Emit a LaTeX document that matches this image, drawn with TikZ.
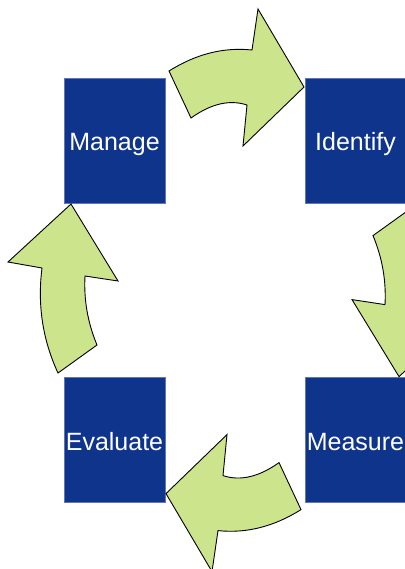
\documentclass[tikz,border=0pt]{standalone}
\usepackage{fontspec}
\setmainfont{Liberation Sans}
\definecolor{boxblue}{RGB}{14,52,140}
\definecolor{boxedge}{RGB}{96,118,184}
\definecolor{arrowgreen}{RGB}{204,228,140}
\begin{document}
\begin{tikzpicture}[x=1pt,y=-1pt,
  stage/.style={fill=boxblue, draw=boxedge, line width=0.5pt, minimum width=101pt, minimum height=125pt, inner sep=0pt, text height=20pt, text depth=0pt, text=white, font=\fontsize{25}{30}\selectfont},
  cyclearrow/.style={fill=arrowgreen, draw=black, line width=0.9pt, line join=miter}]
\useasboundingbox (0,0) rectangle (404,569);
\node[stage] (manage) at (114.5,140.5) {Manage};
\node[stage] (identify) at (355.5,140.5) {Identify};
\node[stage] (measure) at (355.5,440) {Measure};
\node[stage] (evaluate) at (114.5,440) {Evaluate};
% top arrow (Manage -> Identify)
\path[cyclearrow] (169,71) .. controls (196,54) and (223.7,47) .. (252,50) -- (258,9) -- (304,87) -- (243,146) -- (247,105) .. controls (229.7,99.3) and (211,103.7) .. (191,118) -- cycle;
% bottom arrow (Measure -> Evaluate)
\begin{scope}[rotate around={180:(235,290.3)}]
\path[cyclearrow] (169,71) .. controls (196,54) and (223.7,47) .. (252,50) -- (258,9) -- (304,87) -- (243,146) -- (247,105) .. controls (229.7,99.3) and (211,103.7) .. (191,118) -- cycle;
\end{scope}
% left arrow (Evaluate -> Manage)
\path[cyclearrow] (71,204) -- (118,281) -- (85,276) .. controls (83.7,299.7) and (87.7,322.7) .. (97,345) -- (58,373) .. controls (42.7,340) and (37.3,305) .. (42,268) -- (8,262) -- cycle;
% right arrow (Identify -> Measure)
\begin{scope}[rotate around={180:(235,290.3)}]
\path[cyclearrow] (71,204) -- (118,281) -- (85,276) .. controls (83.7,299.7) and (87.7,322.7) .. (97,345) -- (58,373) .. controls (42.7,340) and (37.3,305) .. (42,268) -- (8,262) -- cycle;
\end{scope}
\end{tikzpicture}
\end{document}
